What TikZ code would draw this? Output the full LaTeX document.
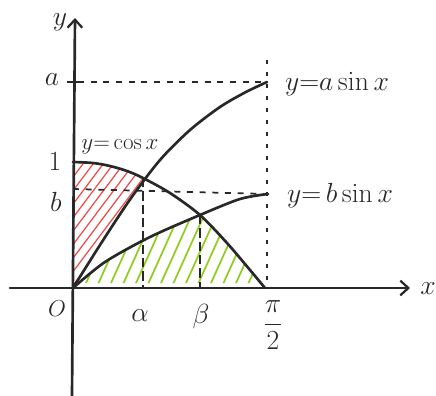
\documentclass[tikz,border=0pt]{standalone}
\usetikzlibrary{arrows.meta}
\definecolor{ink}{RGB}{40,40,40}
\definecolor{hred}{RGB}{240,70,70}
\definecolor{hgreen}{RGB}{145,205,30}
\begin{document}
\begin{tikzpicture}[x=0.75pt,y=-0.75pt,
  axis/.style={ink,line width=2pt,line cap=round,-{Straight Barb[length=6pt,width=11pt,line width=1.7pt]}},
  curve/.style={ink,line width=2pt,line cap=round},
  guide/.style={ink,line width=1.3pt,dash pattern=on 4.5pt off 5pt},
  vguide/.style={ink,line width=1.3pt,dash pattern=on 7pt off 3pt},
  dotguide/.style={ink,line width=1.3pt,dash pattern=on 3pt off 6pt},
  hatchr/.style={hred,line width=0.9pt},
  hatchg/.style={hgreen,line width=1.3pt},
  lab/.style={ink,font=\fontsize{20}{24}\selectfont,inner sep=0pt}]
\useasboundingbox (0,0) rectangle (436,396);

% named coordinates
\coordinate (O) at (73,288);
\coordinate (ybot) at (72,396);
\coordinate (ytop) at (75,18);
\coordinate (xleft) at (10,288);
\coordinate (xright) at (410,288);
\coordinate (A) at (267,82);
\coordinate (Aaxis) at (78,82);
\coordinate (Atick) at (67,82);
\coordinate (B) at (268,194);
\coordinate (Baxis) at (73,189);
\coordinate (Ial) at (143,178);
\coordinate (Ibe) at (200,215);
\coordinate (Ialx) at (143,288);
\coordinate (Ibex) at (200,288);
\coordinate (Vtop) at (267,60);
\coordinate (Vbot) at (267,288);

% red hatching
\begin{scope}
\clip plot[smooth] coordinates {(73,162) (93,163) (110,166) (127,171) (143,178)}
  -- plot[smooth] coordinates {(143,178) (130,199.5) (100,245) (73,288)} -- cycle;
\foreach \k in {0,...,12} {
  \draw[hatchr] (76,{160+\k*13.5}) ++(-40,53) -- ++(150,-200);
}
\end{scope}

% green hatching
\begin{scope}
\clip plot[smooth] coordinates {(73,288) (105,262) (150,237) (200,215)}
  -- plot[smooth] coordinates {(200,215) (227,243) (250,270) (265,288)} -- (265,283) -- (73,283) -- cycle;
\foreach \k in {0,...,16} {
  \draw[hatchg] ({82+\k*12.5},292) -- ++(72,-160);
}
\end{scope}

% guide lines
\draw[ink,line width=1.5pt] (Atick) -- (Aaxis);
\draw[guide] (Aaxis) -- (A);
\draw[guide] (Baxis) -- (B);
\draw[vguide] (Ial) -- (Ialx);
\draw[vguide] (Ibe) -- (Ibex);
\draw[dotguide] (Vtop) -- (Vbot);

% axes
\draw[axis] (xleft) -- (xright);
\draw[axis] (ybot) -- (ytop);

% curves
\draw[curve] plot[smooth] coordinates {(73,162) (93,163) (110,166) (127,171) (143,178) (170,193) (200,215) (227,243) (250,270) (265,288)};
\draw[curve] plot[smooth] coordinates {(73,288) (100,245) (130,199.5) (160,160) (190,130) (220,107) (245,92.5) (267,82)};
\draw[curve] plot[smooth] coordinates {(73,288) (105,262) (150,237) (200,215) (240,199) (268,194)};

% labels
\node[lab] (ylab) at (60,22) {$y$};
\node[lab] (alab) at (52,80) {$a$};
\node[lab] (onelab) at (55,162) {$1$};
\node[lab] (blab) at (56,202) {$b$};
\node[lab,font=\fontsize{18}{22}\selectfont] (olab) at (57,309) {$O$};
\node[lab] (alpha) at (140,316) {$\alpha$};
\node[lab] (beta) at (201,317) {$\beta$};
\node[lab] (pi2) at (273,325) {$\displaystyle\frac{\pi}{2}$};
\node[lab] (xlab) at (428,289) {$x$};
\node[lab,font=\fontsize{16}{19}\selectfont] (cosl) at (120,147) {$y{=}\cos x$};
\node[lab] (asinl) at (337,84) {$y{=}a\sin x$};
\node[lab] (bsinl) at (340,196) {$y{=}\,b\sin x$};
\end{tikzpicture}
\end{document}
